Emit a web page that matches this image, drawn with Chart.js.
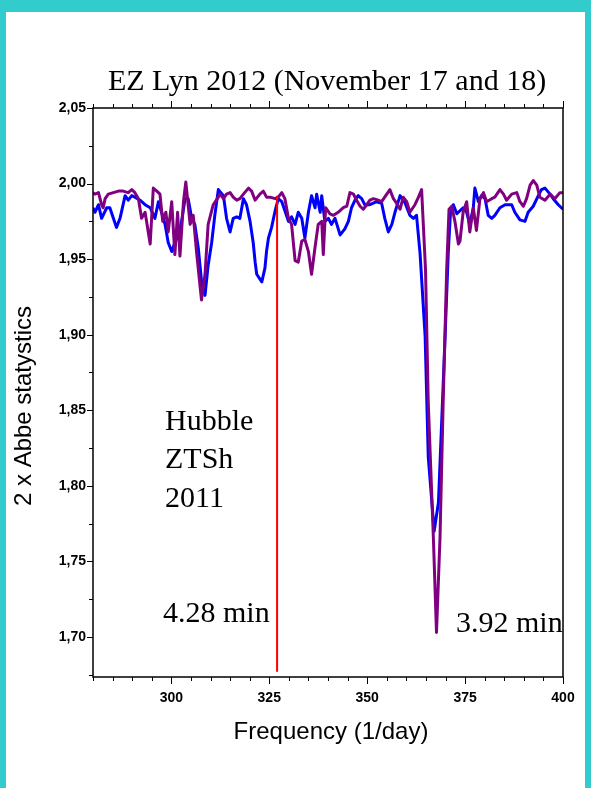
<!DOCTYPE html>
<html>
<head>
<meta charset="utf-8">
<script src="https://cdn.jsdelivr.net/npm/chart.js@4"></script>
<style>
body{margin:0;background:#fff}
#wrap{position:relative;width:591px;height:788px}
</style>
</head>
<body>
<div id="wrap"><canvas id="chart" width="591" height="788"></canvas></div>
<script>
// data (frequency in 1/day, 2 x Abbe statistic)
const blueFreq=[280.0,280.5,281.4,282.2,283.5,284.3,285.2,286.0,286.9,288.2,289.0,289.9,290.7,292.0,293.3,294.6,295.8,296.7,297.5,298.4,299.2,300.1,300.9,302.2,303.5,304.3,305.2,306.0,306.9,307.8,308.6,309.4,310.3,311.1,312.0,313.3,314.1,315.0,315.8,316.7,317.5,318.4,319.2,320.1,320.9,321.4,321.8,323.1,323.9,324.3,324.8,325.6,326.5,327.3,328.2,329.0,329.9,330.7,331.6,332.4,333.3,334.1,335.0,335.8,336.7,337.1,338.0,338.4,339.2,340.1,340.9,341.8,343.1,344.3,345.2,346.0,346.9,347.7,348.6,349.4,350.7,352.4,353.7,354.5,355.4,356.3,357.1,358.4,359.7,360.9,361.8,362.6,363.5,364.8,365.6,367.1,368.2,369.9,370.7,371.3,372.0,372.9,373.7,374.5,375.4,376.2,377.1,377.5,378.4,379.2,380.1,380.9,381.8,382.6,383.9,385.2,386.9,387.7,389.0,390.3,391.1,392.4,393.7,394.5,395.4,396.7,397.5,398.8,400.0];
const blueVal=[1.984,1.981,1.986,1.977,1.984,1.984,1.977,1.971,1.977,1.992,1.989,1.992,1.991,1.989,1.986,1.984,1.977,1.988,1.981,1.973,1.961,1.955,1.961,1.968,1.990,1.990,1.977,1.973,1.957,1.933,1.926,1.946,1.961,1.979,1.996,1.992,1.977,1.968,1.977,1.978,1.977,1.990,1.986,1.975,1.961,1.948,1.940,1.935,1.944,1.955,1.964,1.971,1.982,1.990,1.988,1.982,1.975,1.978,1.973,1.981,1.977,1.964,1.981,1.992,1.984,1.993,1.981,1.992,1.975,1.977,1.973,1.977,1.966,1.970,1.975,1.984,1.989,1.992,1.990,1.986,1.986,1.988,1.987,1.977,1.968,1.973,1.981,1.992,1.987,1.979,1.977,1.979,1.954,1.899,1.819,1.770,1.789,1.899,1.954,1.982,1.986,1.980,1.982,1.984,1.981,1.973,1.984,1.997,1.988,1.992,1.990,1.979,1.977,1.979,1.984,1.986,1.986,1.981,1.976,1.975,1.981,1.985,1.992,1.996,1.997,1.993,1.990,1.986,1.983];

const purpleFreq=[280.0,280.5,281.4,282.2,282.6,283.1,283.9,285.2,286.5,287.7,289.0,289.9,290.7,291.6,292.4,293.3,294.6,295.4,296.3,297.1,297.8,298.6,299.2,300.1,300.9,301.6,302.2,303.1,303.7,304.8,305.6,306.5,307.7,308.6,309.4,310.7,312.0,312.4,313.3,314.1,315.0,315.8,316.7,317.5,318.4,319.7,320.5,321.4,322.6,323.5,324.3,325.2,326.5,327.3,328.2,329.0,329.9,330.7,331.6,332.4,333.3,334.1,335.0,335.8,336.7,337.5,338.4,338.8,339.4,340.5,341.4,342.6,343.9,344.8,345.6,346.5,347.3,348.2,349.0,349.9,350.7,351.6,352.8,353.7,355.0,355.8,356.7,357.5,358.4,359.2,360.1,360.9,362.2,363.1,363.9,364.9,365.6,366.9,367.7,368.6,369.4,370.3,370.9,371.6,372.4,373.3,373.7,374.5,375.4,376.2,377.1,377.9,378.8,379.7,380.5,381.8,382.6,383.9,384.8,385.6,386.9,388.2,389.0,389.9,390.7,391.6,392.4,393.3,394.1,395.4,396.7,397.9,399.2,400.0];
const purpleVal=[1.994,1.993,1.994,1.986,1.984,1.990,1.993,1.994,1.995,1.995,1.994,1.996,1.994,1.990,1.977,1.981,1.960,1.997,1.995,1.993,1.975,1.981,1.968,1.988,1.953,1.981,1.952,1.988,2.001,1.973,1.979,1.953,1.923,1.940,1.973,1.986,1.991,1.993,1.990,1.993,1.994,1.991,1.989,1.990,1.993,1.997,1.995,1.989,1.993,1.995,1.991,1.991,1.990,1.991,1.994,1.990,1.977,1.973,1.949,1.948,1.962,1.963,1.955,1.940,1.958,1.973,1.975,1.953,1.984,1.980,1.979,1.981,1.984,1.985,1.994,1.993,1.989,1.985,1.983,1.986,1.989,1.990,1.989,1.988,1.993,1.996,1.990,1.987,1.983,1.991,1.988,1.981,1.986,1.991,1.996,1.943,1.855,1.766,1.703,1.766,1.855,1.943,1.983,1.985,1.975,1.960,1.962,1.981,1.988,1.968,1.984,1.969,1.990,1.994,1.988,1.990,1.991,1.996,1.993,1.989,1.993,1.994,1.988,1.985,1.990,1.999,2.002,1.999,1.991,1.989,1.993,1.990,1.994,1.994];

const markFreq=[327,327];
const markVal=[1.992,1.677];

const xMin=280, xMax=400, yMin=1.6735, yMax=2.05;
const titleText='EZ Lyn 2012 (November 17 and 18)';
const xTitle='Frequency (1/day)';
const yTitle='2 x Abbe statystics';
const notes=[['Hubble',165,430],['ZTSh',165,468],['2011',165,507],['4.28 min',163,622],['3.92 min',456,632]];

const pts=(xs,ys)=>xs.map((x,i)=>({x:x,y:ys[i]}));

const frame={
 id:'frame',
 beforeDraw(chart){
  const c=chart.ctx;
  c.save();
  c.fillStyle='#fff';c.fillRect(0,0,591,788);
  c.fillStyle='#33cccc';
  c.fillRect(0,0,591,12);c.fillRect(0,0,6,788);c.fillRect(585,0,6,788);
  c.restore();
 },
 afterDraw(chart){
  const c=chart.ctx,a=chart.chartArea,x=chart.scales.x,y=chart.scales.y;
  c.save();
  c.strokeStyle='#000';c.lineWidth=1.5;
  c.strokeRect(a.left,a.top,a.right-a.left,a.bottom-a.top);
  c.lineWidth=1;
  c.beginPath();
  for(let f=xMin;f<=xMax;f+=5){
   const px=Math.round(x.getPixelForValue(f))+0.5, L=f%25===0?7:4;
   c.moveTo(px,a.bottom);c.lineTo(px,a.bottom+L);
   c.moveTo(px,a.top);c.lineTo(px,a.top-L);
  }
  for(let k=0;k<=15;k++){
   const v=1.675+k*0.025, py=Math.round(y.getPixelForValue(v))+0.5, L=k%2===1?6:4;
   c.moveTo(a.left,py);c.lineTo(a.left-L,py);
  }
  c.stroke();
  c.fillStyle='#000';
  c.font='30px "Liberation Serif"';c.textAlign='center';c.textBaseline='alphabetic';
  c.fillText(titleText,327,90);
  c.textAlign='left';
  notes.forEach(n=>c.fillText(n[0],n[1],n[2]));
  c.font='24px "Liberation Sans"';c.textAlign='center';c.textBaseline='middle';
  c.fillText(xTitle,331,732);
  c.translate(24,406);c.rotate(-Math.PI/2);
  c.fillText(yTitle,0,0);
  c.restore();
 }
};

new Chart(document.getElementById('chart'),{
 type:'line',
 data:{datasets:[
  {data:pts(markFreq,markVal),borderColor:'#ff0000',borderWidth:2,order:0},
  {data:pts(purpleFreq,purpleVal),borderColor:'#800080',borderWidth:3,borderJoinStyle:'round',order:1},
  {data:pts(blueFreq,blueVal),borderColor:'#0000ff',borderWidth:3,borderJoinStyle:'round',order:2}
 ]},
 options:{
  responsive:false,animation:false,
  layout:{padding:{top:108,right:28,bottom:0,left:0}},
  elements:{point:{radius:0},line:{tension:0}},
  plugins:{legend:{display:false},tooltip:{enabled:false}},
  scales:{
   x:{type:'linear',min:xMin,max:xMax,
    grid:{display:false,drawTicks:false},border:{display:false},
    ticks:{stepSize:25,includeBounds:false,padding:13,color:'#000',font:{family:'Liberation Sans',size:14,weight:'bold'},
     callback:v=>v%25===0?String(v):''},
    afterFit:s=>{s.height=111;}},
   y:{min:yMin,max:yMax,
    grid:{display:false,drawTicks:false},border:{display:false},
    ticks:{stepSize:0.05,includeBounds:true,padding:7,color:'#000',font:{family:'Liberation Sans',size:14,weight:'bold'},
     callback:v=>Math.round(v*1000)%50===0?v.toFixed(2).replace('.',','):''},
    afterFit:s=>{s.width=93;}}
  }
 },
 plugins:[frame]
});
</script>
</body>
</html>
